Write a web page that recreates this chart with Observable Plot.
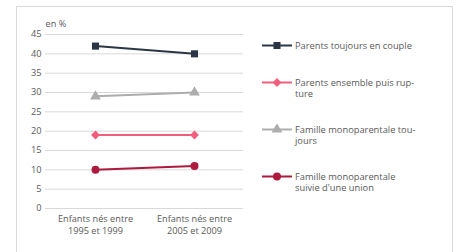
<!DOCTYPE html>
<html>
<head>
<meta charset="utf-8">
<script src="https://cdn.jsdelivr.net/npm/d3@7"></script>
<script src="https://cdn.jsdelivr.net/npm/@observablehq/plot@0.6"></script>
<style>
  html, body { margin: 0; padding: 0; background: #fff; }
  #wrap { position: relative; width: 456px; height: 252px; overflow: hidden; font-family: "Open Sans", sans-serif; }
  #frame { position: absolute; left: 16px; top: 6px; width: 437px; height: 270px; border: 1px solid #d9d9d9; box-sizing: border-box; }
  #chart { position: absolute; left: 0; top: 0; }
  #legend { position: absolute; left: 0; top: 0; }
  .item { position: absolute; left: 262px; display: flex; align-items: flex-start; font-size: 9.3px; color: #595959; line-height: 11px; white-space: pre; }
  .item svg { flex: none; margin-right: 3px; }
</style>
</head>
<body>
<div id="wrap">
  <div id="frame"></div>
  <div id="chart"></div>
  <div id="legend"></div>
</div>
<script>
const categories = ["Enfants nés entre\n1995 et 1999", "Enfants nés entre\n2005 et 2009"];
const series = ["Parents toujours en couple", "Parents ensemble puis rupture", "Famille monoparentale toujours", "Famille monoparentale suivie d'une union"];
const legendLabels = ["Parents toujours en couple", "Parents ensemble puis rup-\nture", "Famille monoparentale tou-\njours", "Famille monoparentale\nsuivie d'une union"];
const toujoursCouple = [42, 40];
const ensembleRupture = [19, 19];
const monoToujours = [29, 30];
const monoUnion = [10, 11];
const yTicks = [0, 5, 10, 15, 20, 25, 30, 35, 40, 45];
const colors = ["#2b3645", "#f0607e", "#adadad", "#ad1a3e"];
const symbols = ["square", "diamond2", "triangle", "circle"];

const valuesBySeries = [toujoursCouple, ensembleRupture, monoToujours, monoUnion];
const data = [];
series.forEach((s, i) => categories.forEach((c, j) => data.push({series: s, cat: c, value: valuesBySeries[i][j]})));

const chart = Plot.plot({
  width: 456,
  height: 252,
  marginLeft: 45,
  marginRight: 213,
  marginTop: 34,
  marginBottom: 44,
  style: {fontFamily: "Open Sans, sans-serif", fontSize: "9.2px", color: "#595959", background: "transparent"},
  x: {type: "point", domain: categories, padding: 0.5, label: null, tickSize: 0, tickPadding: 6},
  y: {domain: [0, 45], ticks: yTicks, label: null, tickSize: 0, tickPadding: 4, grid: false},
  color: {domain: series, range: colors},
  symbol: {domain: series, range: symbols},
  marks: [
    Plot.ruleY(yTicks, {stroke: "#d9d9d9", strokeWidth: 1, strokeOpacity: 1}),
    Plot.axisY({ticks: yTicks, tickSize: 0, tickPadding: 4, label: null}),
    Plot.axisX({tickSize: 0, tickPadding: 5, label: null, lineHeight: 1.3}),
    Plot.text(["en %"], {frameAnchor: "top-left", textAnchor: "start", dy: -14, dx: 0, fill: "#595959"}),
    Plot.line(data, {x: "cat", y: "value", z: "series", stroke: "series", strokeWidth: 2}),
    Plot.dot(data, {x: "cat", y: "value", symbol: "series", fill: "series", stroke: "none", r: 4})
  ]
});
document.getElementById("chart").appendChild(chart);

const legendTops = [40, 77, 124, 171];
const legend = document.getElementById("legend");
series.forEach((s, i) => {
  const div = document.createElement("div");
  div.className = "item";
  div.style.top = legendTops[i] + "px";
  const sym = d3.symbol(symbols[i] === "square" ? d3.symbolSquare : symbols[i] === "diamond2" ? d3.symbolDiamond2 : symbols[i] === "triangle" ? d3.symbolTriangle : d3.symbolCircle, 50)();
  div.innerHTML = `<svg width="30" height="11"><line x1="0" x2="30" y1="5.5" y2="5.5" stroke="${colors[i]}" stroke-width="2"/><path transform="translate(15,5.5)" d="${sym}" fill="${colors[i]}"/></svg><span>${legendLabels[i]}</span>`;
  legend.appendChild(div);
});
</script>
</body>
</html>
